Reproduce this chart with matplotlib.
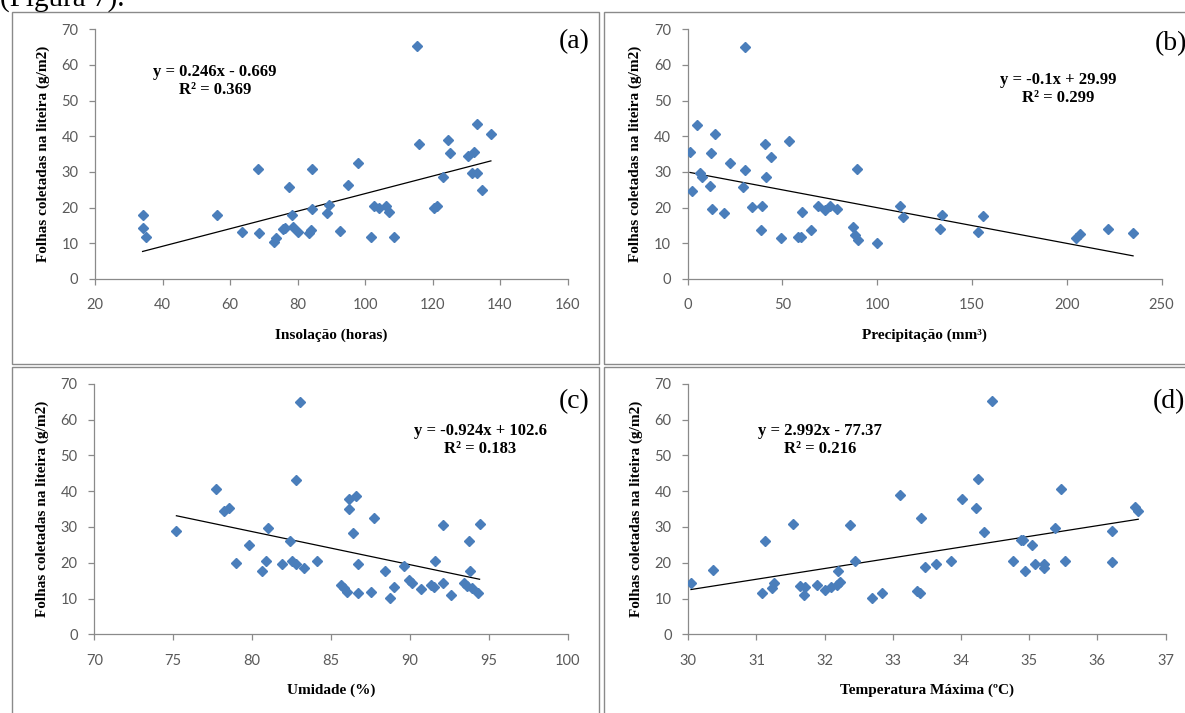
import matplotlib
matplotlib.use("Agg")
import matplotlib.pyplot as plt
from matplotlib.patches import Rectangle
import numpy as np

# panel (a) insolacao
insolacao = [34.1, 34.3, 35.1, 56.1, 63.6, 68.2, 68.7, 73.1, 73.5, 75.6, 76.3, 77.4, 78.5, 78.8,
             80.0, 83.4, 83.9, 84.4, 84.2, 88.8, 89.4, 92.7, 95.1, 98.0, 101.8, 102.6, 104.1,
             106.2, 107.1, 108.7, 115.4, 116.1, 120.4, 121.3, 123.0, 124.5, 125.1, 130.6, 131.6,
             132.4, 133.1, 133.3, 134.8, 137.3]
folhas_a = [17.9, 14.2, 11.7, 17.9, 13.2, 30.7, 13.0, 10.5, 11.4, 13.9, 14.2, 25.9, 17.9, 14.7,
            13.3, 12.8, 13.7, 30.7, 19.5, 18.6, 20.7, 13.5, 26.4, 32.6, 11.9, 20.6, 19.8, 20.6,
            18.9, 11.7, 65.3, 37.9, 20.0, 20.6, 28.7, 39.0, 35.2, 34.5, 29.6, 35.7, 29.8, 43.4,
            25.0, 40.7]

# panel (b) precipitacao
precipitacao = [1.2, 2.1, 4.7, 6.5, 7.4, 11.8, 12.3, 12.7, 14.4, 19.2, 22.3, 29.0, 30.3, 30.3,
                33.8, 38.7, 39.1, 40.8, 41.2, 44.0, 49.3, 53.5, 58.4, 59.8, 60.2, 65.1, 68.9,
                72.5, 75.1, 78.6, 87.4, 88.3, 89.2, 90.1, 99.7, 112.1, 113.8, 133.2, 134.0,
                153.0, 156.0, 204.7, 207.0, 222.0, 235.0]
folhas_b = [35.5, 24.8, 43.1, 29.6, 28.7, 26.2, 35.2, 19.5, 40.6, 18.4, 32.4, 25.9, 30.6, 65.1,
            20.1, 13.6, 20.6, 37.9, 28.7, 34.3, 11.4, 38.8, 11.7, 11.7, 18.7, 13.6, 20.6, 19.3,
            20.6, 19.5, 14.7, 12.3, 30.7, 10.9, 10.2, 20.6, 17.5, 13.9, 17.9, 13.3, 17.7, 11.4,
            12.6, 14.0, 13.0]

# panel (c) umidade
umidade = [75.2, 77.7, 78.2, 78.5, 79.0, 79.8, 80.6, 80.9, 81.0, 81.9, 82.4, 82.5, 82.8, 82.8,
           83.0, 83.3, 84.1, 85.6, 85.8, 86.0, 86.1, 86.1, 86.6, 86.4, 86.7, 86.7, 87.5, 87.7,
           88.4, 88.7, 89.0, 89.6, 89.9, 90.1, 90.7, 91.3, 91.5, 91.6, 92.1, 92.1, 92.6, 93.4,
           93.6, 93.7, 93.8, 93.9, 94.3, 94.4]
folhas_c = [28.8, 40.5, 34.4, 35.3, 20.0, 25.0, 17.7, 20.6, 29.7, 19.5, 26.1, 20.4, 19.5, 43.0,
            64.9, 18.6, 20.6, 13.7, 12.8, 11.8, 34.9, 37.9, 38.5, 28.4, 19.5, 11.6, 11.8, 32.6,
            17.6, 10.1, 13.2, 19.0, 15.1, 14.2, 12.6, 13.7, 13.2, 20.6, 30.4, 14.2, 11.1, 14.4,
            13.4, 26.0, 17.8, 12.8, 11.6, 30.7]

# panel (d) temperatura maxima
temp_max = [30.04, 30.36, 31.08, 31.12, 31.23, 31.26, 31.54, 31.64, 31.69, 31.71, 31.89, 32.01,
            32.10, 32.18, 32.19, 32.23, 32.37, 32.44, 32.70, 32.84, 33.10, 33.36, 33.40, 33.41,
            33.47, 33.64, 33.86, 34.02, 34.22, 34.25, 34.34, 34.46, 34.77, 34.88, 34.91, 34.94,
            35.04, 35.08, 35.22, 35.22, 35.38, 35.47, 35.53, 36.22, 36.22, 36.55, 36.60]
folhas_d = [14.4, 18.0, 11.6, 26.0, 12.8, 14.3, 30.9, 13.4, 10.9, 13.2, 13.9, 12.5, 13.2, 13.7,
            17.7, 14.6, 30.6, 20.5, 10.1, 11.4, 38.8, 12.0, 11.6, 32.6, 18.8, 19.6, 20.5, 37.7,
            35.3, 43.3, 28.6, 65.2, 20.4, 26.4, 26.3, 17.7, 24.9, 19.5, 19.7, 18.6, 29.8, 40.5,
            20.4, 28.8, 20.2, 35.5, 34.5]

# trend line coefficients (slope, intercept) and R2 as printed
coef_a, r2_a = (0.246, -0.669), 0.369
coef_b, r2_b = (-0.1, 29.99), 0.299
coef_c, r2_c = (-0.924, 102.6), 0.183
coef_d, r2_d = (2.992, -77.37), 0.216

W, H = 1185, 713
fig = plt.figure(figsize=(W / 100, H / 100), dpi=100)
fig.patch.set_facecolor("white")

serif = "Liberation Serif"
tickfont = "Lato"
gray = "#8a8a8a"


def px_rect(l, r, top, bottom):
    return [l / W, 1 - bottom / H, (r - l) / W, (bottom - top) / H]


def make_panel(rect, x, y, coef, xlim, xticks, xlabel, eq, eq_pos, tag, tag_pos):
    ax = fig.add_axes(px_rect(*rect))
    ax.plot(x, y, "D", color="#4a7ebb", ms=5.6, mec="#4a7ebb", zorder=3)
    xs = np.array([min(x), max(x)])
    ax.plot(xs, coef[0] * xs + coef[1], color="black", lw=0.9, zorder=2)
    ax.set_xlim(xlim)
    ax.set_ylim(0, 70)
    ax.set_xticks(xticks)
    ax.set_yticks(range(0, 71, 10))
    for s in ["top", "right"]:
        ax.spines[s].set_visible(False)
    for s in ["left", "bottom"]:
        ax.spines[s].set_color(gray)
        ax.spines[s].set_linewidth(0.9)
    ax.tick_params(axis="both", direction="out", length=4, width=0.9, color=gray,
                   labelcolor="#5a5a5a", labelsize=10.5)
    ax.tick_params(axis="y", pad=8)
    ax.tick_params(axis="x", pad=10)
    for lab in ax.get_xticklabels() + ax.get_yticklabels():
        lab.set_fontfamily(tickfont)
    l, r, top, bottom = rect
    fig.text((l - 52) / W, 1 - ((top + bottom) / 2) / H, "Folhas coletadas na liteira (g/m2)",
             rotation=90, ha="center", va="center", family=serif, weight="bold", fontsize=11)
    fig.text(((l + r) / 2) / W, 1 - (bottom + 56) / H, xlabel, ha="center", va="center",
             family=serif, weight="bold", fontsize=11)
    fig.text(eq_pos[0] / W, 1 - eq_pos[1] / H, eq, ha="center", va="center",
             family=serif, weight="bold", fontsize=12, linespacing=1.15)
    fig.text(tag_pos[0] / W, 1 - tag_pos[1] / H, tag, ha="right", va="center",
             family=serif, fontsize=20)
    return ax


def eq_text(coef, r2):
    sign = "-" if coef[1] < 0 else "+"
    return "y = %gx %s %g\nR\u00b2 = %.3f" % (coef[0], sign, abs(coef[1]), r2)


make_panel((95, 567.5, 29.3, 279), insolacao, folhas_a, coef_a, (20, 160), range(20, 161, 20),
           "Insolação (horas)", eq_text(coef_a, r2_a), (215, 81), "(a)", (590, 42))
make_panel((687.7, 1161.5, 29.3, 279), precipitacao, folhas_b, coef_b, (0, 250), range(0, 251, 50),
           "Precipitação (mm\u00b3)", eq_text(coef_b, r2_b), (1058, 89), "(b)", (1187, 44))
make_panel((94.3, 568, 383.7, 634.3), umidade, folhas_c, coef_c, (70, 100), range(70, 101, 5),
           "Umidade (%)", eq_text(coef_c, r2_c), (480, 440), "(c)", (590, 402))
make_panel((688.3, 1165.5, 383.7, 634.3), temp_max, folhas_d, coef_d, (30, 37), range(30, 38),
           "Temperatura Máxima (ºC)", eq_text(coef_d, r2_d), (820, 440), "(d)", (1185, 402))

# table borders around the panels
boxes = [(11.7, 599, 11.7, 364.3), (604, 1195, 11.7, 364.3),
         (11.7, 599, 367, 725), (604, 1195, 367, 725)]
for l, r, top, bottom in boxes:
    fig.add_artist(Rectangle((l / W, 1 - bottom / H), (r - l) / W, (bottom - top) / H,
                             transform=fig.transFigure, fill=False, ec=gray, lw=1.0))

# cut-off caption line from the page above, as in the source page
fig.text(0, 1 - 6 / H, "(Figura 7).", ha="left", va="baseline", family=serif, fontsize=21)

fig.savefig("out.png", dpi=100, facecolor="white")
